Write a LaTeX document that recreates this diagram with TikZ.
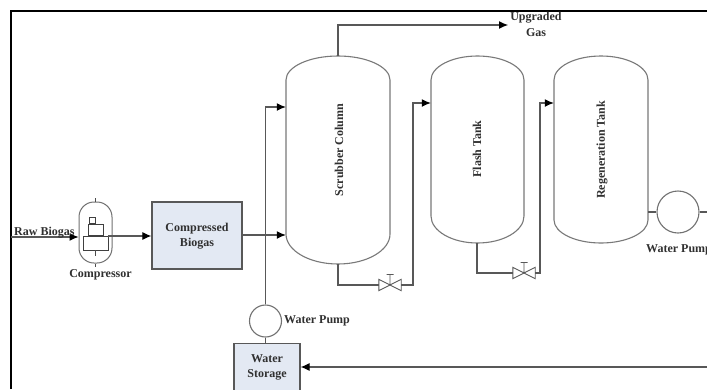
\documentclass[tikz,border=0pt]{standalone}
\usepackage{fontspec}
\setmainfont{Liberation Serif}
\usetikzlibrary{arrows.meta,calc}
\definecolor{boxblue}{HTML}{E3E9F3}
\definecolor{linegrey}{HTML}{585858}
\definecolor{textgrey}{HTML}{303030}
\tikzset{
  pipe/.style={draw=linegrey,line width=1.1pt},
  flow/.style={pipe,-{Latex[length=9pt,width=8pt,color=black]}},
  tankline/.style={draw=linegrey!80,line width=1.1pt},
  thin part/.style={draw=linegrey,line width=0.9pt},
  label/.style={font=\bfseries\fontsize{12}{15.5}\selectfont,text=textgrey,inner sep=0pt,align=center},
  bluebox/.style={draw=linegrey,line width=1.2pt,fill=boxblue,inner sep=0pt},
  pump/.style={circle,draw=linegrey!85,line width=1.1pt,inner sep=0pt},
  tankbody/.style={rectangle,inner sep=0pt},
}
% name, left, right, top, bottom, shoulder top, shoulder bottom
\newcommand{\tank}[7]{%
  \node[tankbody,minimum width={(#3-#2)*1pt},minimum height={(#5-#4)*1pt}] (#1) at ({(#2+#3)/2},{(#4+#5)/2}) {};
  \draw[tankline] (#2,#6) arc[start angle=180,end angle=0,x radius={(#3-#2)/2*1pt},y radius={(#6-#4)*1pt}]
     -- (#3,#7) arc[start angle=0,end angle=-180,x radius={(#3-#2)/2*1pt},y radius={(#5-#7)*1pt}] -- cycle;
}
% name, x, y
\newcommand{\valve}[3]{%
  \node[inner sep=0pt,minimum width=22pt,minimum height=11pt] (#1) at (#2,#3) {};
  \draw[thin part] (#1.center) -- (#1.north west) -- (#1.south west) -- cycle
     (#1.center) -- (#1.north east) -- (#1.south east) -- cycle
     (#1.center) -- ++(0,-10.5) ++(-3.5,0) -- ++(7,0);
}
\begin{document}
\begin{tikzpicture}[x=1pt,y=-1pt]
\useasboundingbox (0,0) rectangle (707,389);
\clip (0,0) rectangle (707,389);
\fill[white] (0,0) rectangle (707,389);

% frame
\draw[black,line width=2.6pt] (11,389) -- (11,11) -- (707,11);

% compressor
\node[rectangle,inner sep=0pt,minimum width=33pt,minimum height=61pt,draw=linegrey!85,line width=1pt,rounded corners=15pt] (comp) at (95.5,232.5) {};
\node[draw=black!75,line width=0.9pt,inner sep=0pt,minimum width=25pt,minimum height=14pt] (compbox) at (95.5,243) {};
\node[draw=black!75,line width=0.9pt,inner sep=0pt,minimum width=15pt,minimum height=11pt,anchor=south] (comptop) at (compbox.north) {};
\node[draw=black!75,line width=0.9pt,inner sep=0pt,minimum width=6pt,minimum height=6pt,anchor=south] (compcap) at ($(comptop.north)+(-3.5,0)$) {};
\draw[black!70,line width=1.4pt] (comp.north) -- ++(0,-4) (comp.south) -- ++(0,3) (compbox.south) -- ++(0,6);

% boxes
\node[bluebox,minimum width=90pt,minimum height=67pt] (cb) at (197,235.5) {};
\node[label] (cbt) at (197,236) {Compressed\\Biogas};
\node[bluebox,minimum width=66pt,minimum height=60pt,anchor=north] (ws) at (267,343) {};
\node[label] (wst) at (267,367.5) {Water\\Storage};

% tanks
\tank{scrub}{286}{390}{56}{264}{80}{234}
\tank{flash}{431}{524}{56}{243}{80}{216}
\tank{regen}{554}{648}{56}{243}{80}{220}
\node[label,rotate=90] (st) at (339,150) {Scrubber Column};
\node[label,rotate=90] (ft) at (477,149) {Flash Tank};
\node[label,rotate=90] (rt) at (602,150) {Regeneration Tank};

% pumps and valves
\node[pump,minimum size=32pt] (p1) at (265.5,321) {};
\node[pump,minimum size=42pt] (p2) at (678,212) {};
\valve{v1}{390}{285}
\valve{v2}{524}{273}

% free ends
\coordinate (rawin) at (11,237);
\coordinate (gasout) at (508,25);
\coordinate (p2out) at (707,212);
\coordinate (retin) at (707,367);

% connectors
\draw[flow] (rawin) -- (rawin -| comp.west);
\draw[flow] (compbox.east |- 0,236) -- (cb.west |- 0,236);
\draw[flow] (cb.east |- 0,235) -- (scrub.west |- 0,235);
\draw[flow] (p1.north) -- (265.5,107) -- (scrub.west |- 0,107);
\draw[pipe] (p1.south) -- (ws.north -| p1.south);
\draw[flow] (338,56) -- (338,25) -- (gasout);
\draw[pipe] (scrub.south) -- (scrub.south |- v1.west) -- (v1.west);
\draw[flow] (v1.east) -- (413,285) -- (413,103) -- (flash.west |- 0,103);
\draw[pipe] (477,243) -- (477,273) -- (v2.west);
\draw[flow] (v2.east) -- (540,273) -- (540,103) -- (regen.west |- 0,103);
\draw[pipe] (regen.east |- p2.west) -- (p2.west);
\draw[pipe] (p2.east) -- (p2out);
\draw[flow] (retin) -- (ws.east |- retin);

% labels
\node[label,anchor=west] (rb) at (14,233) {Raw Biogas};
\node[label] (ct) at (100.5,275) {Compressor};
\node[label] (ug) at (536,24.5) {Upgraded\\Gas};
\node[label,anchor=west] (wp1) at (284,321) {Water Pump};
\node[label,anchor=west] (wp2) at (646,250) {Water Pump};
\end{tikzpicture}
\end{document}
